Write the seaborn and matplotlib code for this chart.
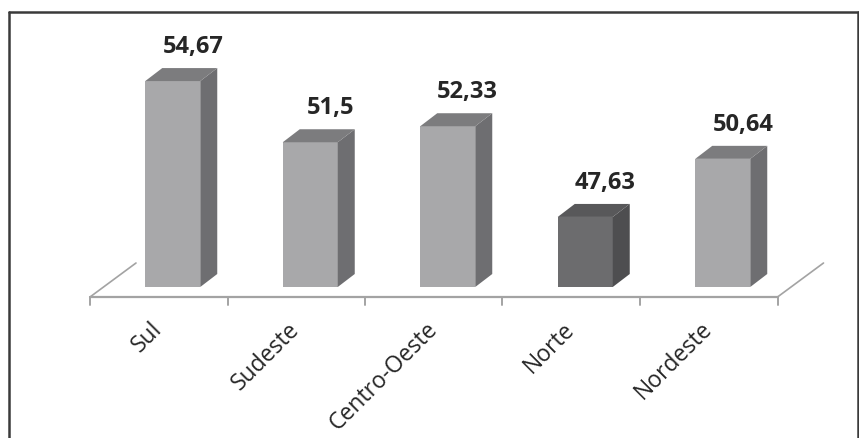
import matplotlib
matplotlib.use("Agg")
import matplotlib.pyplot as plt
import pandas as pd
import seaborn as sns
from matplotlib.patches import Polygon
from matplotlib.lines import Line2D

# Data
regions = ["Sul", "Sudeste", "Centro-Oeste", "Norte", "Nordeste"]
values = [54.67, 51.5, 52.33, 47.63, 50.64]
value_labels = ["54,67", "51,5", "52,33", "47,63", "50,64"]

# Face colours (front / top / side) for each bar
front_colors = ["#a8a8aa", "#a8a8aa", "#a8a8aa", "#6c6c6e", "#a8a8aa"]
top_colors = ["#7c7c7e", "#7c7c7e", "#7c7c7e", "#58585a", "#7c7c7e"]
side_colors = ["#6e6e71", "#6e6e71", "#6e6e71", "#4e4e50", "#6e6e71"]

df = pd.DataFrame({"region": regions, "value": values})

sns.set_style("white")
plt.rcParams["font.family"] = ["Open Sans", "DejaVu Sans"]

W, H = 859, 438
fig = plt.figure(figsize=(W / 100, H / 100), dpi=100)
fig.patch.set_facecolor("white")

# Axes placed in pixel units: the bar plane sits behind the front floor edge
ax_left, ax_right, ax_bottom = 104, 791.5, 287
y_min, y_max = 44, 58
px_per_unit = 19.3
ax_h = (y_max - y_min) * px_per_unit
ax = fig.add_axes([ax_left / W, (H - ax_bottom) / H, (ax_right - ax_left) / W, ax_h / H])

sns.barplot(data=df, x="region", y="value", hue="region", palette=front_colors,
            width=0.4, saturation=1, legend=False, ax=ax, linewidth=0)
ax.set_xlim(-0.5, len(regions) - 0.5)
ax.set_ylim(y_min, y_max)
ax.axis("off")

# pixel -> data conversion factors
p0 = ax.transData.transform((0, 0))
p1 = ax.transData.transform((1, 1))
sx = 1.0 / (p1[0] - p0[0])
sy = 1.0 / (p1[1] - p0[1])

def dpx(dx, dy):
    return dx * sx, dy * sy

# 3D depth of each bar
bdx, bdy = dpx(17, 13)
bars = sorted(ax.patches, key=lambda p: p.get_x())
for i, p in enumerate(bars):
    x0, w, top = p.get_x(), p.get_width(), p.get_height()
    side = Polygon([(x0 + w, y_min), (x0 + w + bdx, y_min + bdy),
                    (x0 + w + bdx, top + bdy), (x0 + w, top)],
                   closed=True, facecolor=side_colors[i], edgecolor="none", clip_on=False)
    cap = Polygon([(x0, top), (x0 + bdx, top + bdy),
                   (x0 + w + bdx, top + bdy), (x0 + w, top)],
                  closed=True, facecolor=top_colors[i], edgecolor="none", clip_on=False)
    ax.add_patch(side)
    ax.add_patch(cap)
    lx, ly = dpx(20, 13 + 15)
    ax.text(x0 + w / 2 + lx, top + ly, value_labels[i], ha="center", va="baseline",
            fontsize=17, fontweight="bold", color="#262626", clip_on=False)

# Floor: front edge, side edges and category ticks
fx, fy = dpx(-14, -10)
xl, xr = -0.5 + fx, len(regions) - 0.5 + fx
yf = y_min + fy
floor_color = "#a3a3a3"
ddx, ddy = dpx(46, 34)
ax.add_line(Line2D([xl, xr], [yf, yf], color=floor_color, lw=1.6, clip_on=False))
ax.add_line(Line2D([xl, xl + ddx], [yf, yf + ddy], color=floor_color, lw=1.2, clip_on=False))
ax.add_line(Line2D([xr, xr + ddx], [yf, yf + ddy], color=floor_color, lw=1.2, clip_on=False))
tk = dpx(0, -8)[1]
for k in range(len(regions) + 1):
    xt = -0.5 + k + fx
    ax.add_line(Line2D([xt, xt], [yf, yf + tk], color=floor_color, lw=1.4, clip_on=False))

# Category labels, rotated 45 degrees, ending under each category
ly_lab = y_min + dpx(0, -39)[1]
for i, name in enumerate(regions):
    ax.text(i + fx, ly_lab, name, rotation=45, rotation_mode="anchor",
            ha="right", va="center", fontsize=16.5, color="#262626", clip_on=False)

# Outer frame
frame_color = "#3a3a3a"
fig.add_artist(Line2D([8.5 / W, 8.5 / W], [0, (H - 12) / H], color=frame_color, lw=1.8))
fig.add_artist(Line2D([8.5 / W, 857.5 / W], [(H - 12) / H, (H - 12) / H], color=frame_color, lw=1.8))
fig.add_artist(Line2D([857.5 / W, 857.5 / W], [0, (H - 12) / H], color=frame_color, lw=1.8))

fig.savefig("out.png", dpi=100, facecolor="white")
